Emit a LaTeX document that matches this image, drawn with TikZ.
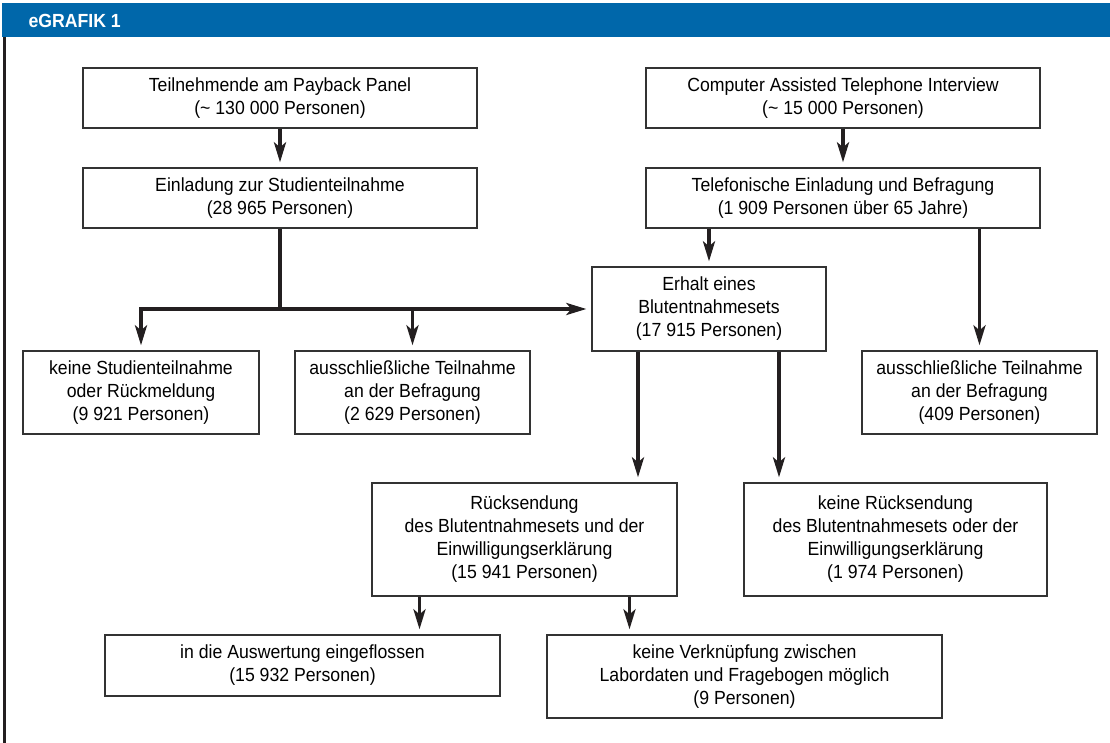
\documentclass[tikz,border=0pt]{standalone}
\usepackage{fontspec}
\setmainfont{Liberation Sans}[FakeStretch=0.93]
\usetikzlibrary{arrows.meta}
\definecolor{headBlue}{RGB}{0,103,170}
\definecolor{boxLine}{RGB}{51,51,51}
\definecolor{arrowInk}{RGB}{35,31,32}

\begin{document}
\begin{tikzpicture}[
    x=1pt, y=-1pt,
    every node/.style={font=\fontsize{19}{23}\selectfont},
    box/.style={draw=boxLine, fill=white, line width=1.3pt, align=center, inner sep=0pt},
    top box/.style={box, minimum width=394pt, minimum height=60pt},
    mid box/.style={box, minimum width=235pt, minimum height=83pt},
    low box/.style={box, minimum width=304pt, minimum height=113pt},
    end box/.style={box, minimum width=395pt},
    flow/.style={-{Stealth[length=20pt, width=12pt, inset=5pt]}, line width=3.6pt, draw=arrowInk, shorten >=5pt},
    trunk/.style={line width=3.6pt, draw=arrowInk}
  ]
    \useasboundingbox (0,0) rectangle (1110,743);

    % header bar and frame line
    \fill[headBlue] (2,3) rectangle (1110,37);
    \node[anchor=base west, text=white, font=\fontsize{19}{23}\selectfont\bfseries] (title) at (25,28) {eGRAFIK 1};
    \draw[arrowInk, line width=3pt] (4,37) -- (4,743);

    \node[top box] (panel) at (280,98) {Teilnehmende am Payback Panel\\(\textasciitilde{} 130 000 Personen)};
    \node[top box] (cati) at (843,98) {Computer Assisted Telephone Interview\\(\textasciitilde{} 15 000 Personen)};
    \node[top box] (invite) at (280,198) {Einladung zur Studienteilnahme\\(28 965 Personen)};
    \node[top box] (phone) at (843,198) {Telefonische Einladung und Befragung\\(1 909 Personen über 65 Jahre)};

    \node[mid box, minimum width=234pt, minimum height=84pt] (kit) at (709,309) {Erhalt eines\\Blutentnahmesets\\(17 915 Personen)};
    \node[mid box, minimum width=236pt] (noPart) at (141,392.5) {keine Studienteilnahme\\oder Rückmeldung\\(9 921 Personen)};
    \node[mid box] (surveyOnly) at (412.5,392.5) {ausschließliche Teilnahme\\an der Befragung\\(2 629 Personen)};
    \node[mid box] (phoneOnly) at (979.5,392.5) {ausschließliche Teilnahme\\an der Befragung\\(409 Personen)};

    \node[low box, minimum width=305pt] (returned) at (524.5,539.5) {Rücksendung\\des Blutentnahmesets und der\\Einwilligungserklärung\\(15 941 Personen)};
    \node[low box, minimum width=303pt] (notReturned) at (895.5,539.5) {keine Rücksendung\\des Blutentnahmesets oder der\\Einwilligungserklärung\\(1 974 Personen)};

    \node[end box, minimum height=61pt] (analysed) at (302.5,665.5) {in die Auswertung eingeflossen\\(15 932 Personen)};
    \node[end box, minimum height=83pt] (noLink) at (744.5,676.5) {keine Verknüpfung zwischen\\Labordaten und Fragebogen möglich\\(9 Personen)};

    \draw[flow] (panel) -- (invite);
    \draw[flow] (cati) -- (phone);

    % Payback branch splits three ways
    \coordinate (hub) at (280,309);
    \draw[trunk] (invite.south) -- (hub);
    \draw[flow] (hub) -| (noPart.north);
    \draw[flow] (hub) -- (kit.west);
    \draw[flow] (surveyOnly.north |- hub) -- (surveyOnly.north);

    \draw[flow] (kit.north |- phone.south) -- (kit.north);
    \draw[flow] (phoneOnly.north |- phone.south) -- (phoneOnly.north);

    \draw[flow] ([xshift=-71pt]kit.south) -- ([xshift=-71pt]kit.south |- returned.north);
    \draw[flow] ([xshift=70pt]kit.south) -- ([xshift=70pt]kit.south |- notReturned.north);

    \draw[flow] ([xshift=-105pt]returned.south) -- ([xshift=-105pt]returned.south |- analysed.north);
    \draw[flow] ([xshift=105pt]returned.south) -- ([xshift=105pt]returned.south |- noLink.north);
  \end{tikzpicture}
\end{document}
